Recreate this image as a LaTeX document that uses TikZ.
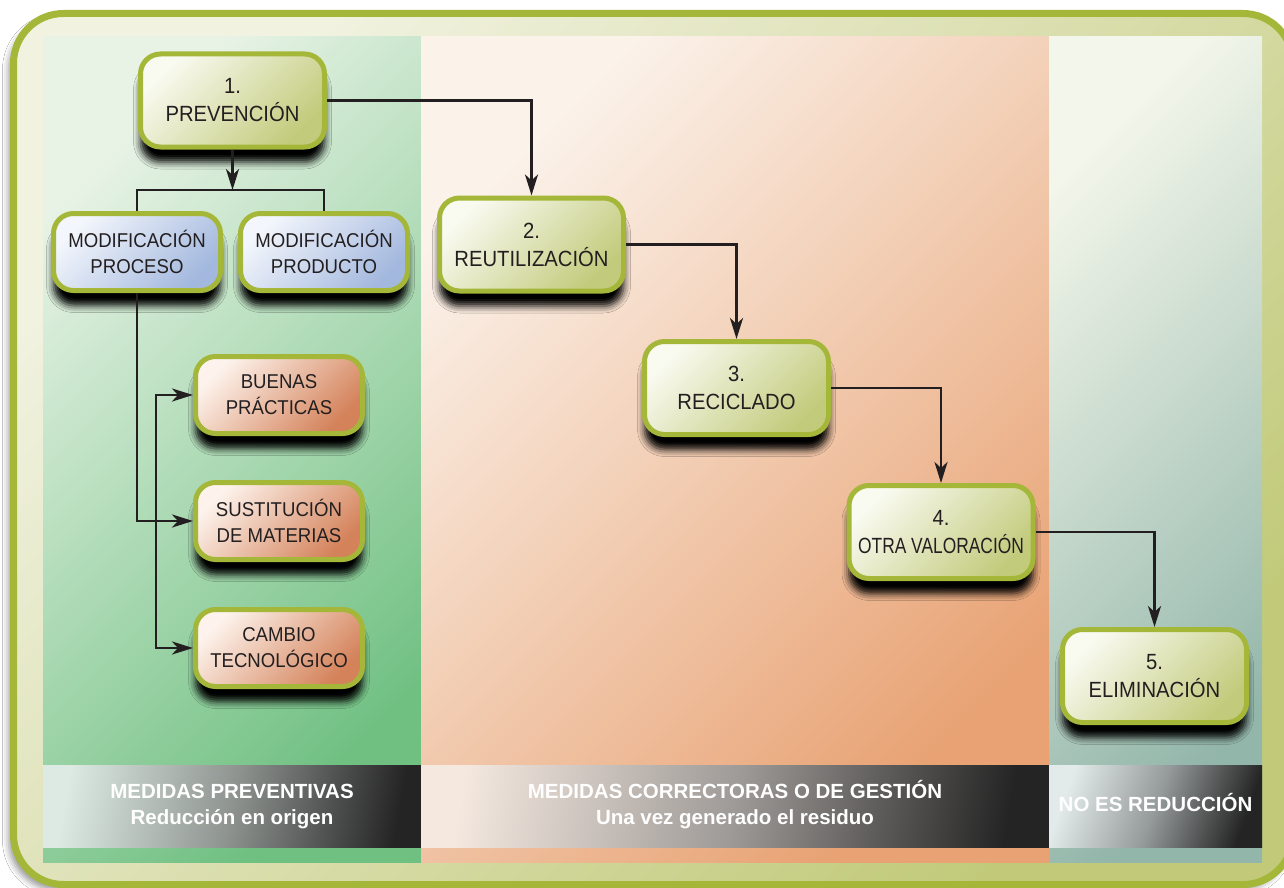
\documentclass[tikz,border=0pt]{standalone}
\usepackage{fontspec}
\setmainfont{Liberation Sans}
\newfontfamily\stepfont[FakeStretch=0.92]{Liberation Sans}
\newfontfamily\tightfont[FakeStretch=0.79]{Liberation Sans}
\newfontfamily\subfont[FakeStretch=0.93]{Liberation Sans}
\usetikzlibrary{arrows.meta,shadows.blur}

\definecolor{rim}{HTML}{A5B739}
\definecolor{ink}{HTML}{231F20}
\definecolor{frameA}{HTML}{F1F2E0}
\definecolor{frameB}{HTML}{C2CA7A}
\definecolor{gA}{HTML}{E8F3E6}
\definecolor{gB}{HTML}{70C082}
\definecolor{oA}{HTML}{FBF2EA}
\definecolor{oB}{HTML}{E8A273}
\definecolor{tA}{HTML}{F3F6EA}
\definecolor{tB}{HTML}{93B6AA}
\definecolor{stepA}{HTML}{F9FAF0}
\definecolor{stepB}{HTML}{C2CB7C}
\definecolor{blueA}{HTML}{F3F6FC}
\definecolor{blueB}{HTML}{A3B8DE}
\definecolor{peachA}{HTML}{FDF3EC}
\definecolor{peachB}{HTML}{D4825A}
\definecolor{barLA}{HTML}{DCEAE3}
\definecolor{barLM}{HTML}{8E9390}
\definecolor{barMA}{HTML}{F4E8DF}
\definecolor{barMM}{HTML}{9E9A97}
\definecolor{barRA}{HTML}{E2EBE9}
\definecolor{barRM}{HTML}{959A9A}
\definecolor{barB}{HTML}{242424}

\tikzset{
  boxshadow/.style={blur shadow={shadow xshift=0pt, shadow yshift=-15pt,
      shadow blur radius=7pt, shadow opacity=100}},
  basebox/.style={draw=rim, line width=5pt, rounded corners=20pt,
      align=center, text=ink, inner sep=0pt, boxshadow},
  stepbox/.style={basebox, minimum width=184pt, minimum height=93pt,
      top color=stepA, bottom color=stepB, shading angle=45,
      font=\stepfont\fontsize{22}{28}\selectfont},
  bluebox/.style={basebox, minimum width=167pt, minimum height=77pt,
      top color=blueA, bottom color=blueB, shading angle=45,
      font=\subfont\fontsize{20}{26}\selectfont},
  peachbox/.style={basebox, minimum width=167pt, minimum height=77pt,
      top color=peachA, bottom color=peachB, shading angle=45,
      font=\subfont\fontsize{20}{26}\selectfont},
  link/.style={draw=ink, line width=2.9pt},
  arr/.style={link, -{Stealth[length=21pt, width=13pt, inset=6pt]}},
  barcap/.style={text=white, anchor=base, inner sep=0pt,
      font=\bfseries\fontsize{20.5}{25}\selectfont},
  barsub/.style={text=white, anchor=base, inner sep=0pt,
      font=\bfseries\fontsize{20.5}{25}\selectfont},
}

\begin{document}
\begin{tikzpicture}[x=1pt, y=-1pt]
  \useasboundingbox (0,0) rectangle (1284,888);
  \fill[white] (0,0) rectangle (1284,888);

  % outer frame
  \draw[draw=rim, line width=7pt, rounded corners=50pt,
        top color=frameA, bottom color=frameB, shading angle=45,
        blur shadow={shadow xshift=-5pt, shadow yshift=-6pt,
          shadow blur radius=6pt, shadow opacity=40}]
    (13.5,13.5) rectangle (1293,884.5);

  % three columns
  \path[top color=gA, bottom color=gB, shading angle=45] (43,37) rectangle (421,862);
  \path[top color=oA, bottom color=oB, shading angle=45] (421,37) rectangle (1049,862);
  \path[top color=tA, bottom color=tB, shading angle=45] (1049,37) rectangle (1262,862);

  % caption bars
  \path[left color=barLA, right color=barB, middle color=barLM, shading angle=80]
    (43,765) rectangle (421,847);
  \path[left color=barMA, right color=barB, middle color=barMM, shading angle=80]
    (421,765) rectangle (1049,847);
  \path[left color=barRA, right color=barB, middle color=barRM, shading angle=70]
    (1049,765) rectangle (1262,847);

  \node[barcap] (capL) at (232,798) {MEDIDAS PREVENTIVAS};
  \node[barsub] (subL) at (232,824) {Reducción en origen};
  \node[barcap] (capM) at (735,798) {MEDIDAS CORRECTORAS O DE GESTIÓN};
  \node[barsub] (subM) at (735,824) {Una vez generado el residuo};
  \node[barcap] (capR) at (1155.5,811) {NO ES REDUCCIÓN};

  % hierarchy steps
  \node[stepbox] (p1) at (232.5,100.5) {1.\\PREVENCIÓN};
  \node[stepbox] (p2) at (531.5,244.5) {2.\\REUTILIZACIÓN};
  \node[stepbox] (p3) at (736.5,388) {3.\\RECICLADO};
  \node[stepbox] (p4) at (941,532) {4.\\{\tightfont OTRA VALORACIÓN}};
  \node[stepbox] (p5) at (1154.5,676) {5.\\ELIMINACIÓN};

  % prevention measures
  \node[bluebox] (mproc) at (137,252) {MODIFICACIÓN\\PROCESO};
  \node[bluebox] (mprod) at (324,252) {MODIFICACIÓN\\PRODUCTO};
  \node[peachbox] (buenas) at (279,395) {BUENAS\\PRÁCTICAS};
  \node[peachbox] (sust) at (279,521) {SUSTITUCIÓN\\DE MATERIAS};
  \node[peachbox] (cambio) at (279,648) {CAMBIO\\TECNOLÓGICO};

  % connectors
  \coordinate (split) at (232.5,190);
  \draw[arr] (p1.south) -- (split);
  \draw[link] (mproc.north) |- (split) -| (mprod.north);

  \draw[arr] (p1.east) -| (p2.north);
  \draw[arr] (p2.east) -| (p3.north);
  \draw[arr] (p3.east) -| (p4.north);
  \draw[arr] (p4.east) -| (p5.north);

  \draw[arr] (mproc.south) |- (sust.west);
  \coordinate (fork) at (156,521);
  \draw[arr] (fork) |- (buenas.west);
  \draw[arr] (fork) |- (cambio.west);
\end{tikzpicture}
\end{document}
